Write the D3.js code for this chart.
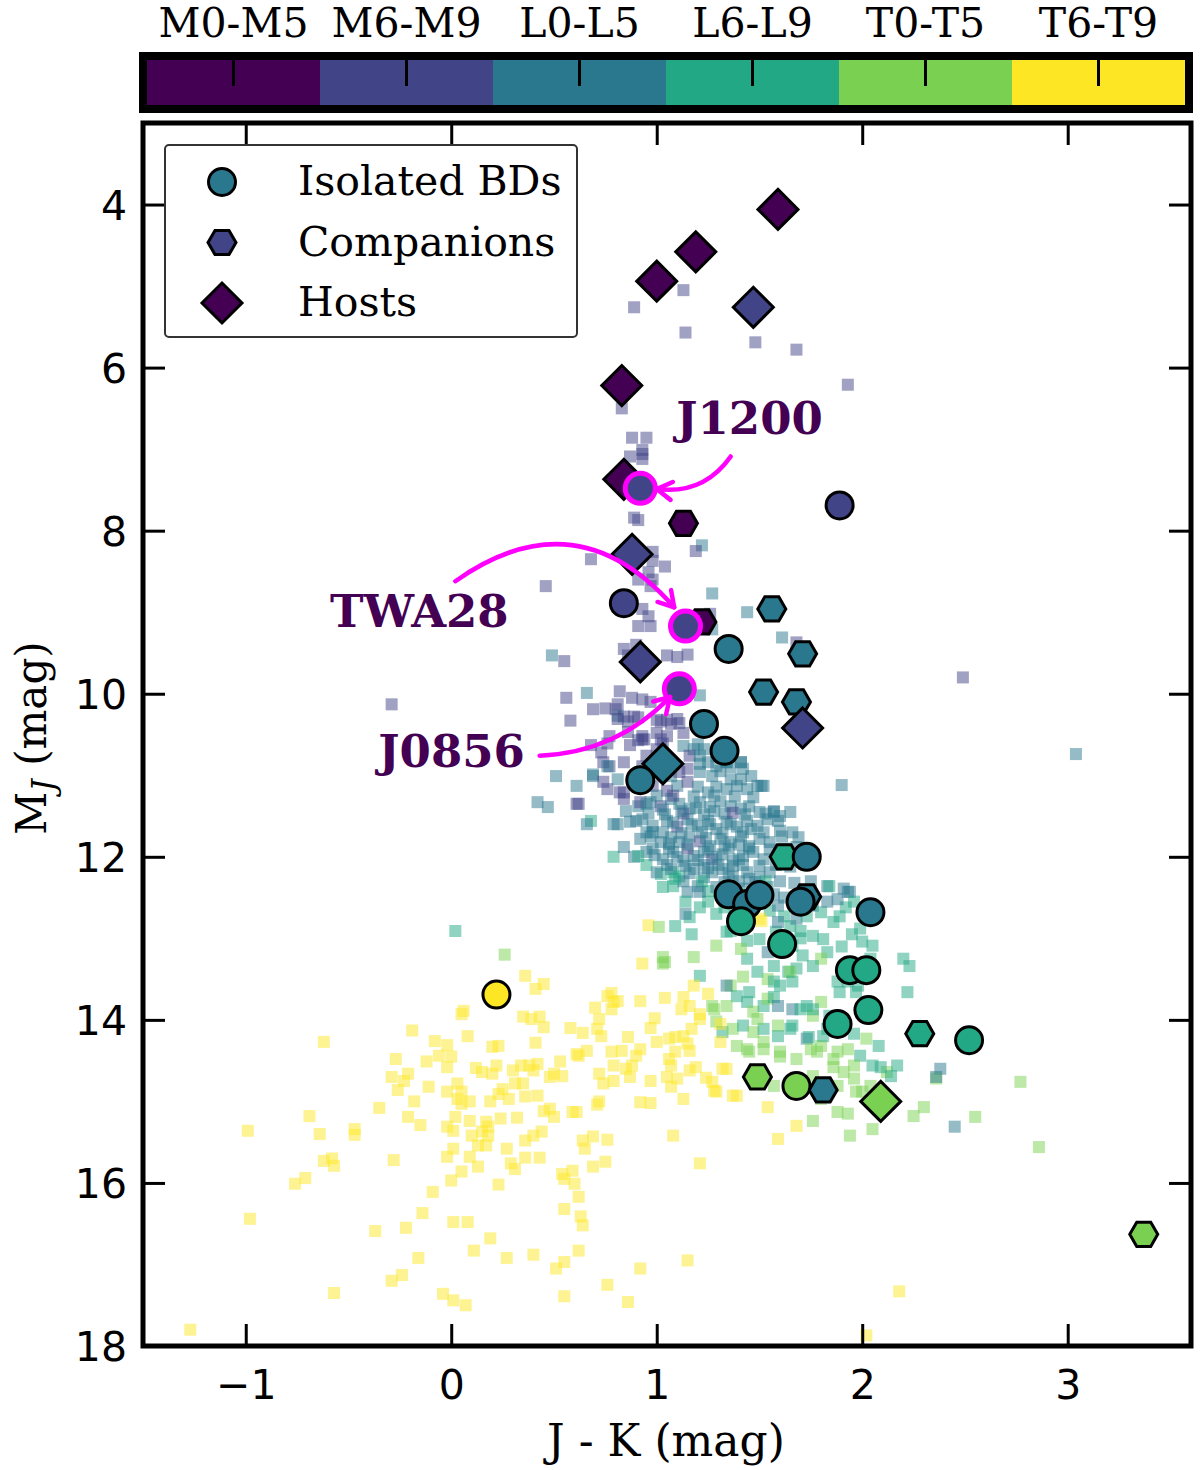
<!DOCTYPE html>
<meta charset="utf-8">
<head>
<script src="https://cdn.jsdelivr.net/npm/d3@7"></script>
<style>
  body { margin: 0; background: #fff; }
  .serif { font-family: "DejaVu Serif", serif; }
  .axis text { font-family: "DejaVu Sans", sans-serif; font-size: 41px; fill: #000; }
  .axis line { stroke: #000; stroke-width: 3; }
</style>
</head>
<body>
<script>
// spectral type classes (colorbar)
var categories = ["M0-M5", "M6-M9", "L0-L5", "L6-L9", "T0-T5", "T6-T9"];

// axis ticks
var xTicks = [-1, 0, 1, 2, 3];
var yTicks = [4, 6, 8, 10, 12, 14, 16, 18];

// [J-K, M_J, class index]
var isolated = [
  [1.89,7.69,1],[0.84,8.89,1],[1.35,9.45,2],[1.23,10.37,2],[1.33,10.70,2],
  [0.92,11.06,2],[1.73,12.00,2],[1.35,12.46,2],[1.44,12.58,2],[1.50,12.47,2],
  [1.70,12.55,2],[2.04,12.68,2],[1.41,12.79,3],[1.61,13.07,3],[1.94,13.39,3],
  [2.02,13.39,3],[2.03,13.88,3],[1.88,14.05,3],[2.52,14.25,3],[1.68,14.81,4],
  [0.22,13.69,5]
];
var companions = [
  [1.13,7.91,0],[1.22,9.12,0],[1.56,8.96,2],[1.71,9.51,2],[1.52,9.98,2],
  [1.68,10.10,2],[1.62,12.00,3],[1.73,12.49,2],[2.28,14.17,3],[1.49,14.70,4],
  [1.81,14.86,2],[3.37,16.63,4]
];
var hosts = [
  [1.59,4.06,0],[1.19,4.58,0],[1.00,4.94,0],[1.47,5.26,1],[0.83,6.22,0],
  [0.84,7.37,0],[0.88,8.29,1],[0.92,9.61,1],[1.71,10.42,1],[1.03,10.86,2],
  [2.09,15.00,4]
];

// highlighted objects: name, position, class
var namedObjects = ["J1200", "TWA28", "J0856"];
var namedPos = [[0.92,7.48,1],[1.14,9.17,1],[1.11,9.94,1]];
var labelPos = [[1.095,6.82],[-0.59,9.18],[-0.355,10.90]];
var arrowFrom = [[1.36,7.09],[0.02,8.62],[0.43,10.76]];
var arrowTo = [[1.00,7.49],[1.085,8.94],[1.065,10.04]];
var arrowRad = [-0.3, -0.45, 0.2];

// field objects (background squares)
var field = [
  [0.89,5.26,1],[1.13,5.05,1],[1.14,5.57,1],[1.48,5.69,1],[1.68,5.78,1],[1.93,6.21,1],
  [0.83,6.50,1],[0.88,6.86,1],[0.95,6.86,1],[0.87,7.09,1],[0.93,7.01,1],[0.93,7.12,1],
  [0.93,7.06,1],[0.89,7.84,1],[0.91,7.87,1],[1.22,8.18,2],[1.19,8.25,1],[0.68,8.35,1],
  [0.98,8.26,1],[0.98,8.37,1],[1.04,8.44,1],[0.96,8.51,1],[0.98,8.60,1],[0.91,8.60,1],
  [0.97,8.68,1],[0.46,8.68,1],[1.27,8.77,2],[1.44,9.00,2],[0.93,8.96,1],[0.96,9.05,1],
  [0.91,9.17,1],[0.97,9.17,1],[1.26,9.02,1],[1.27,9.21,2],[0.84,9.45,1],[0.90,9.40,1],
  [0.86,9.53,1],[0.91,9.55,1],[1.05,9.53,1],[1.10,9.55,1],[1.15,9.52,1],[1.61,9.31,2],
  [1.68,9.37,1],[0.49,9.53,2],[0.55,9.60,1],[1.21,10.02,2],[0.66,9.99,2],[0.56,10.05,1],
  [0.58,10.33,1],[0.69,10.19,1],[0.75,10.18,1],[0.81,10.13,1],[0.82,9.97,1],[0.88,10.05,1],
  [0.93,10.07,1],[0.97,10.10,1],[0.81,10.27,2],[0.84,10.28,1],[0.89,10.28,1],[1.00,10.32,1],
  [1.05,10.32,1],[1.11,10.36,1],[1.13,10.48,1],[1.00,10.48,1],[0.93,10.52,1],[1.03,10.61,1],
  [0.77,10.52,1],[0.76,10.61,1],[0.68,10.63,1],[0.87,10.63,1],[0.91,10.57,1],[0.73,10.72,1],
  [0.74,10.84,1],[0.77,10.89,1],[1.13,10.64,2],[1.20,10.62,2],[1.23,10.68,2],[1.29,10.76,2],
  [1.34,10.84,2],[1.36,10.90,2],[1.41,10.84,2],[0.84,10.84,1],[0.95,10.76,1],[0.93,10.89,1],
  [0.69,10.99,2],[0.61,11.13,2],[0.51,11.01,2],[0.76,11.17,1],[0.82,11.21,1],[0.84,11.29,1],
  [1.90,11.12,2],[0.42,11.33,2],[0.47,11.39,2],[0.61,11.35,1],[0.68,11.56,3],[0.66,11.60,2],
  [0.79,11.60,2],[0.87,11.57,2],[-0.29,10.13,1],[2.49,9.80,1],[3.04,10.74,2],
  [0.80,10.19,1],[0.81,10.31,1],[0.86,10.34,1],[0.91,10.29,1],[1.02,10.34,1],[1.07,10.37,1],
  [1.10,10.31,1],[0.94,10.56,1],[1.02,10.56,1],[1.00,10.68,1],[1.05,10.52,1],[0.86,10.47,1],
  [0.93,10.56,1],[0.62,11.35,1],[0.69,11.01,2],[0.76,10.89,2],[1.18,10.68,2],[1.16,10.76,1],
  [1.21,10.76,2],[1.21,10.86,2],[1.15,10.92,1],[1.25,10.84,2],[1.29,10.89,2],[1.34,10.84,2],
  [1.41,10.84,2],[1.42,10.92,2],[1.46,11.01,2],[1.51,11.13,2],[1.41,11.05,2],[0.74,11.08,1],
  [0.81,11.05,2],[0.84,11.21,1],[0.91,11.38,2],[0.92,11.33,1],[0.97,11.33,2],[0.85,11.44,2],
  [0.90,11.56,2],[0.81,11.60,2],[0.79,12.00,3],[0.84,11.88,2],[1.02,12.21,3],[1.03,12.37,3],
  [1.08,12.19,3],[1.57,11.45,2],[1.65,11.45,2],[1.59,11.56,2],[1.61,11.75,2],[1.69,11.76,2],
  [1.68,11.88,2],[1.83,12.36,2],[1.91,12.39,2],[1.94,12.43,2],
  [1.02,10.95,1],[1.07,11.01,2],[1.11,10.96,1],[1.21,10.96,2],[1.27,11.01,2],[1.31,10.95,2],
  [1.36,11.05,2],[0.98,11.13,1],[1.05,11.19,1],[1.10,11.13,2],[1.15,11.08,1],[1.20,11.14,2],
  [1.25,11.21,2],[1.29,11.14,2],[1.34,11.17,2],[1.39,11.13,2],[1.44,11.17,2],[1.49,11.13,2],
  [1.52,11.13,2],[0.95,11.35,2],[1.02,11.38,1],[1.07,11.29,2],[1.11,11.35,2],[1.16,11.41,2],
  [1.21,11.33,2],[1.26,11.39,2],[1.31,11.32,2],[1.36,11.38,2],[1.41,11.41,2],[1.45,11.38,2],
  [1.50,11.45,2],[1.57,11.44,2],[0.93,11.54,2],[0.98,11.62,2],[1.05,11.56,2],[1.10,11.63,1],
  [1.15,11.54,2],[1.20,11.62,2],[1.25,11.56,2],[1.29,11.66,2],[1.34,11.57,2],[1.39,11.63,2],
  [1.44,11.56,2],[1.49,11.62,2],[1.54,11.54,2],[0.92,11.78,2],[0.97,11.75,2],[1.02,11.82,2],
  [1.07,11.76,2],[1.11,11.82,2],[1.16,11.75,2],[1.21,11.81,1],[1.26,11.87,2],[1.31,11.78,2],
  [1.36,11.82,2],[1.41,11.75,2],[1.45,11.87,2],[1.50,11.78,2],[1.55,11.82,2],[0.89,12.00,2],
  [0.95,11.94,2],[1.03,12.03,2],[1.08,11.94,2],[1.13,12.05,2],[1.18,11.99,2],[1.23,11.94,2],
  [1.27,12.03,1],[1.32,11.97,2],[1.37,12.05,2],[1.42,11.99,2],[1.47,11.94,2],[1.52,12.03,2],
  [1.00,12.19,2],[1.07,12.15,2],[1.11,12.24,3],[1.18,12.15,2],[1.23,12.25,2],[1.27,12.19,2],
  [1.32,12.15,2],[1.37,12.24,2],[1.44,12.19,2],[1.50,12.25,2],[1.55,12.19,2],[1.08,12.36,3],
  [1.15,12.43,2],[1.20,12.36,2],[1.25,12.42,3],[1.29,12.37,2],[1.42,12.39,2],[1.47,12.43,2],
  [1.54,12.37,2],[1.57,12.46,2],[1.50,12.11,2],[1.37,12.11,2],
  [1.00,11.25,2],[1.08,11.25,1],[1.18,11.26,2],[1.28,11.25,2],[1.38,11.26,2],[1.47,11.27,2],
  [0.96,11.47,2],[1.04,11.48,2],[1.13,11.47,1],[1.23,11.48,2],[1.33,11.47,2],[1.43,11.48,2],
  [1.53,11.47,2],[1.60,11.50,2],[0.95,11.70,2],[1.03,11.70,2],[1.12,11.71,2],[1.22,11.70,2],
  [1.32,11.71,2],[1.42,11.70,2],[1.52,11.70,2],[1.60,11.68,2],[1.66,11.70,2],[0.98,11.90,2],
  [1.06,11.90,2],[1.15,11.90,1],[1.25,11.91,2],[1.35,11.90,2],[1.45,11.90,2],[1.55,11.91,2],
  [1.62,11.90,2],[0.95,12.10,3],[1.05,12.10,2],[1.14,12.11,2],[1.23,12.10,2],[1.30,12.10,2],
  [1.42,12.10,2],[1.58,12.10,2],[1.65,12.12,2],[1.13,12.30,2],[1.22,12.30,3],[1.33,12.31,2],
  [1.40,12.30,2],[1.48,12.31,2],[1.60,12.30,2],[1.67,12.32,2],[1.75,12.30,2],[1.25,12.55,3],
  [1.33,12.62,3],[1.38,12.72,3],[1.55,12.66,3],[1.62,12.50,2],[1.58,12.92,3],[1.70,13.00,3],
  [1.92,12.62,3],[1.95,12.95,3],[1.90,13.10,3],
  [1.03,11.42,2],[1.12,11.44,2],[1.19,11.40,2],[1.28,11.44,2],[1.37,11.46,1],[1.08,11.58,2],
  [1.17,11.60,2],[1.26,11.60,2],[1.36,11.60,2],[1.46,11.66,2],[1.06,11.84,2],[1.15,11.85,2],
  [1.24,11.77,2],[1.33,11.86,2],[1.40,11.85,2],[1.10,12.00,2],[1.20,12.04,2],[1.29,12.00,2],
  [1.40,12.03,2],[1.16,12.20,2],[1.25,12.14,2],[1.35,12.20,2],[1.45,12.27,2],[1.53,12.30,3],
  [0.99,11.98,2],
  [1.14,12.55,3],[1.21,12.62,3],[1.16,12.74,3],[1.21,12.43,2],[1.29,12.70,3],[1.36,12.91,3],
  [1.44,12.80,2],[1.50,13.01,3],[1.44,13.03,3],[1.50,12.76,5],[1.59,12.60,2],[1.62,12.73,3],
  [1.65,12.85,3],[1.68,12.76,2],[1.73,12.73,3],[1.76,12.60,2],[1.80,12.68,3],[1.83,12.55,2],
  [1.88,12.52,2],[1.93,12.43,2],[1.96,12.55,3],[1.89,12.73,3],[1.86,12.80,3],[1.84,12.36,3],
  [1.99,12.88,3],[2.00,13.04,3],[2.05,13.09,3],[2.04,13.25,3],[1.76,12.97,3],[1.81,13.01,3],
  [1.83,13.17,3],[1.80,13.25,4],[1.76,13.34,3],[1.66,13.09,3],[1.71,13.21,3],[1.68,13.37,3],
  [1.64,13.41,3],[1.57,13.34,3],[1.54,13.17,2],[2.20,13.25,3],[2.23,13.34,3],[1.44,13.25,3],
  [1.41,13.13,4],[1.49,13.41,3],[1.54,13.50,4],[1.60,13.58,3],[1.36,13.58,4],[1.39,13.71,3],
  [1.34,13.83,4],[1.44,13.78,3],[1.47,13.90,4],[1.52,13.83,3],[1.29,14.02,4],[1.32,14.15,3],
  [1.37,14.11,4],[1.42,14.07,3],[1.47,14.15,4],[1.52,14.11,3],[1.59,14.07,4],[1.65,14.11,3],
  [1.66,13.87,2],[1.73,13.83,3],[1.80,13.78,4],[1.84,13.95,3],[1.76,13.95,4],[1.31,14.27,5],
  [1.39,14.32,4],[1.45,14.39,4],[1.52,14.27,4],[1.60,14.39,4],[1.68,14.48,4],[1.73,14.23,2],
  [1.80,14.32,4],[1.88,14.39,4],[1.99,14.44,3],[2.05,14.56,3],[2.12,14.64,4],[2.17,14.56,3],
  [2.38,14.60,2],[2.36,14.72,4],[1.21,13.99,5],[1.27,13.83,4],[1.16,13.83,5],
  [0.98,11.70,2],[0.91,11.99,3],[1.09,12.27,3],[1.17,12.95,3],[1.14,12.70,2],[0.96,12.84,5],
  [1.01,12.86,4],[1.09,12.85,3],[0.93,13.31,5],[1.03,13.31,4],[1.18,13.23,4],[1.21,13.46,3],
  [1.29,13.09,4],[1.34,12.92,3],[1.51,12.79,5],[1.59,12.80,2],[1.70,12.91,3],[1.88,13.53,3],
  [1.93,13.53,3],[1.42,13.47,4],[1.45,13.66,3],[1.57,13.53,3],[1.65,13.41,4],[1.66,13.53,3],
  [1.54,13.74,4],[1.57,13.72,3],[1.59,13.83,2],[1.49,13.99,4],[1.44,14.36,4],[1.52,14.36,4],
  [1.59,14.20,3],[1.66,14.07,3],[1.70,13.87,3],[1.76,13.87,3],[1.89,13.66,3],[1.97,13.66,3],
  [1.98,13.58,3],[1.83,14.11,3],[1.81,14.20,3],[1.78,14.39,4],[1.96,14.17,3],[2.02,14.23,4],
  [2.08,14.32,3],[1.74,14.21,3],[1.75,14.36,4],[1.93,14.36,4],[1.86,14.48,4],[1.86,14.58,4],
  [1.96,14.56,4],[2.09,14.58,3],[2.14,14.69,3],[1.60,14.45,4],[1.57,14.81,4],[1.76,14.69,4],
  [1.91,14.64,4],[1.96,14.72,4],[1.97,14.88,4],[2.00,14.88,4],[2.04,14.81,4],[1.88,14.81,4],
  [1.80,14.97,4],[1.88,15.13,4],[1.93,15.15,4],[1.76,15.24,4],[2.05,15.34,4],[1.94,15.42,4],
  [2.25,15.18,4],[2.30,15.07,4],[2.36,14.70,2],[2.45,15.31,2],[2.55,15.19,4],[2.77,14.76,4],
  [2.86,15.56,4],[1.68,15.30,5],[1.59,15.46,5],[1.54,15.07,5],[2.22,13.66,3],
  [0.02,12.91,3],[0.26,13.20,4],[0.36,13.46,5],[0.41,13.62,5],[0.45,13.56,5],[0.05,13.93,5],
  [0.06,13.89,5],[0.35,13.96,5],[0.39,13.99,5],[0.43,13.96,5],[0.45,14.09,5],[-0.19,14.13,5],
  [-0.62,14.27,5],[0.08,14.20,5],[-0.08,14.26,5],[-0.02,14.31,5],[0.20,14.33,5],[0.23,14.32,5],
  [0.41,14.28,5],[0.58,14.10,5],[0.64,14.16,5],[0.70,13.85,5],[0.72,13.99,5],[0.71,14.11,5],
  [0.73,14.20,5],[0.78,13.67,5],[0.81,13.77,5],[0.78,13.87,5],[0.92,13.77,5],[0.99,13.98,5],
  [0.97,14.10,5],[1.03,13.23,4],[1.04,13.29,4],[1.04,13.73,5],[1.13,13.72,5],[1.12,13.87,5],
  [1.18,13.58,5],[1.25,13.68,5],[1.21,13.93,5],[1.17,14.11,5],[1.28,13.87,4],[1.31,14.05,5],
  [1.34,13.58,2],[-0.27,14.48,5],[-0.12,14.51,5],[-0.06,14.44,5],[0.00,14.45,5],[-0.02,14.58,5],
  [-0.29,14.70,5],[-0.21,14.66,5],[-0.23,14.75,5],[0.12,14.59,5],[0.15,14.64,5],[0.20,14.66,5],
  [0.22,14.56,5],[0.30,14.62,5],[0.34,14.56,5],[0.38,14.56,5],[0.42,14.54,5],[0.40,14.62,5],
  [0.53,14.51,5],[0.50,14.66,5],[0.54,14.69,5],[0.48,14.70,5],[0.62,14.44,5],[0.66,14.38,5],
  [0.61,14.42,5],[0.78,14.39,5],[0.83,14.38,5],[0.86,14.21,5],[0.79,14.56,5],[0.85,14.60,5],
  [0.88,14.56,5],[0.90,14.44,5],[0.92,14.36,5],[1.00,14.27,5],[1.06,14.23,5],[1.09,14.21,5],
  [1.13,14.20,5],[1.15,14.29,5],[1.09,14.39,5],[1.06,14.48,5],[1.07,14.56,5],[1.05,14.70,5],
  [1.10,14.72,5],[1.16,14.62,5],[1.19,14.58,5],[1.16,14.38,5],[0.72,14.66,5],[0.74,14.78,5],
  [0.79,14.75,5],[0.87,14.70,5],[0.97,14.75,5],[1.07,14.82,5],[1.13,14.97,5],[1.24,14.71,5],
  [1.28,14.87,5],[1.34,14.60,5],[1.39,14.93,5],[0.97,15.02,5],[-0.11,14.82,5],[-0.02,14.88,5],
  [0.03,14.78,5],[0.05,14.88,5],[-0.26,14.86,5],[-0.18,15.00,5],[-0.35,15.08,5],[0.03,14.97,5],
  [0.09,15.00,5],[0.05,15.03,5],[0.19,15.00,5],[0.23,14.91,5],[0.25,14.85,5],[0.28,14.97,5],
  [0.31,14.78,5],[0.35,14.78,5],[0.36,14.94,5],[0.42,14.93,5],[-0.21,15.19,5],[-0.15,15.29,5],
  [0.02,15.19,5],[0.09,15.24,5],[0.17,15.25,5],[0.24,15.21,5],[0.32,15.20,5],[0.45,15.12,5],
  [0.48,15.09,5],[0.50,15.19,5],[0.61,15.13,5],[0.71,15.04,5],[-0.69,15.18,5],[-0.99,15.36,5],
  [-0.64,15.40,5],[-0.47,15.34,5],[-0.47,15.41,5],[-0.02,15.31,5],[0.01,15.36,5],[0.10,15.42,5],
  [0.15,15.37,5],[0.18,15.31,5],[0.18,15.42,5],[0.13,15.54,5],[0.17,15.54,5],[0.36,15.48,5],
  [0.40,15.42,5],[0.44,15.37,5],[0.64,15.48,5],[0.69,15.43,5],[0.76,15.47,5],[0.65,15.58,5],
  [1.08,15.42,5],[-0.28,15.72,5],[-0.62,15.73,5],[-0.58,15.70,5],[-0.57,15.79,5],[0.01,15.58,5],
  [-0.02,15.68,5],[0.09,15.68,5],[0.13,15.80,5],[0.27,15.58,5],[0.29,15.76,5],[0.31,15.83,5],
  [0.36,15.69,5],[0.43,15.69,5],[0.54,15.89,5],[0.59,15.85,5],[0.55,15.95,5],[0.60,16.01,5],
  [0.62,16.17,5],[0.69,15.80,5],[0.75,15.74,5],[1.21,15.76,5],[0.05,15.86,5],[0.00,15.97,5],
  [-0.09,16.11,5],[0.23,16.02,5],[-0.71,15.94,5],[-0.76,16.01,5],[-0.98,16.44,5],[-0.14,16.37,5],
  [-0.22,16.55,5],[-0.37,16.59,5],[0.01,16.48,5],[0.08,16.48,5],[0.19,16.68,5],[0.55,16.32,5],
  [0.63,16.41,5],[0.64,16.52,5],[-0.16,16.92,5],[0.11,16.83,5],[0.27,16.92,5],[0.40,16.88,5],
  [0.62,16.83,5],[0.55,16.97,5],[0.51,17.05,5],[0.92,17.05,5],[1.15,16.95,5],[0.76,17.25,5],
  [-0.24,17.13,5],[-0.29,17.20,5],[-0.57,17.35,5],[-0.04,17.36,5],[0.01,17.44,5],[0.07,17.50,5],
  [0.55,17.39,5],[0.86,17.46,5],[-1.27,17.80,5],[2.02,17.87,5],[2.18,17.33,5],
  [1.32,14.60,5],[1.27,14.76,5],[1.37,14.93,5],[1.29,14.88,5],[0.92,15.01,5],[0.72,15.00,5],
  [0.59,15.13,5],[0.76,13.71,5],[0.79,13.78,5]
];

var W = 1200, H = 1470;
var color = function(i) { return d3.interpolateViridis(i / (categories.length - 1)); };

var svg = d3.select("body").append("svg")
  .attr("width", W).attr("height", H);

var x = d3.scaleLinear().domain([-1.5, 3.6]).range([143, 1191]);
var y = d3.scaleLinear().domain([3, 18]).range([123, 1346]);

// ---- colorbar ----
var cb = d3.scaleBand().domain(categories).range([147, 1185]);
var cbTop = 60, cbBot = 105;

svg.selectAll("rect.cb").data(categories).enter().append("rect")
  .attr("class", "cb")
  .attr("x", function(d) { return cb(d); })
  .attr("y", cbTop)
  .attr("width", cb.bandwidth() + 0.5)
  .attr("height", cbBot - cbTop)
  .attr("fill", function(d, i) { return color(i); });

svg.selectAll("line.cbtick").data(categories).enter().append("line")
  .attr("x1", function(d) { return cb(d) + cb.bandwidth() / 2; })
  .attr("x2", function(d) { return cb(d) + cb.bandwidth() / 2; })
  .attr("y1", cbTop).attr("y2", cbTop + 26)
  .attr("stroke", "#000").attr("stroke-width", 3);

svg.append("rect")
  .attr("x", 143).attr("y", 56)
  .attr("width", 1189 - 143).attr("height", 109 - 56)
  .attr("fill", "none").attr("stroke", "#000").attr("stroke-width", 8);

svg.selectAll("text.cblab").data(categories).enter().append("text")
  .attr("class", "serif")
  .attr("x", function(d) { return cb(d) + cb.bandwidth() / 2; })
  .attr("y", 37)
  .attr("text-anchor", "middle")
  .attr("font-size", 41)
  .text(function(d) { return d; });

// ---- main panel ----
var defs = svg.append("defs");
defs.append("clipPath").attr("id", "clip").append("rect")
  .attr("x", 143).attr("y", 123).attr("width", 1048).attr("height", 1223);

defs.append("marker").attr("id", "arrow")
  .attr("viewBox", "-20 -12 24 24")
  .attr("markerUnits", "userSpaceOnUse")
  .attr("markerWidth", 24).attr("markerHeight", 24)
  .attr("refX", 0).attr("refY", 0)
  .attr("orient", "auto")
  .append("path")
  .attr("d", "M-15,-9 L0,0 L-15,9")
  .attr("fill", "none").attr("stroke", "#ff00ff").attr("stroke-width", 4.5)
  .attr("stroke-linecap", "round").attr("stroke-linejoin", "round");

var panel = svg.append("g").attr("clip-path", "url(#clip)");

var sq = 12;
panel.selectAll("rect.field").data(field).enter().append("rect")
  .attr("x", function(d) { return x(d[0]) - sq / 2; })
  .attr("y", function(d) { return y(d[1]) - sq / 2; })
  .attr("width", sq).attr("height", sq)
  .attr("fill", function(d) { return color(d[2]); })
  .attr("fill-opacity", 0.5);

var hex = d3.symbol().type({
  draw: function(ctx, size) {
    var r = Math.sqrt(size / (1.5 * Math.sqrt(3)));
    for (var k = 0; k < 6; k++) {
      var a = k * Math.PI / 3;
      if (k === 0) ctx.moveTo(r * Math.cos(a), r * Math.sin(a));
      else ctx.lineTo(r * Math.cos(a), r * Math.sin(a));
    }
    ctx.closePath();
  }
}).size(1.5 * Math.sqrt(3) * 14 * 14);

var diamond = d3.symbol().type({
  draw: function(ctx, size) {
    var r = Math.sqrt(size / 2);
    ctx.moveTo(0, -r); ctx.lineTo(r, 0); ctx.lineTo(0, r); ctx.lineTo(-r, 0);
    ctx.closePath();
  }
}).size(2 * 20 * 20);

panel.selectAll("path.comp").data(companions).enter().append("path")
  .attr("d", hex)
  .attr("transform", function(d) { return "translate(" + x(d[0]) + "," + y(d[1]) + ")"; })
  .attr("fill", function(d) { return color(d[2]); })
  .attr("stroke", "#000").attr("stroke-width", 3);

panel.selectAll("path.host").data(hosts).enter().append("path")
  .attr("d", diamond)
  .attr("transform", function(d) { return "translate(" + x(d[0]) + "," + y(d[1]) + ")"; })
  .attr("fill", function(d) { return color(d[2]); })
  .attr("stroke", "#000").attr("stroke-width", 3);

panel.selectAll("circle.iso").data(isolated).enter().append("circle")
  .attr("cx", function(d) { return x(d[0]); })
  .attr("cy", function(d) { return y(d[1]); })
  .attr("r", 13.5)
  .attr("fill", function(d) { return color(d[2]); })
  .attr("stroke", "#000").attr("stroke-width", 3);

panel.selectAll("circle.named").data(namedPos).enter().append("circle")
  .attr("cx", function(d) { return x(d[0]); })
  .attr("cy", function(d) { return y(d[1]); })
  .attr("r", 15)
  .attr("fill", function(d) { return color(d[2]); })
  .attr("stroke", "#ff00ff").attr("stroke-width", 5);

// annotation arrows (arc3-like quadratic curves)
panel.selectAll("path.arrow").data(namedObjects).enter().append("path")
  .attr("d", function(d, i) {
    var x1 = x(arrowFrom[i][0]), y1 = y(arrowFrom[i][1]);
    var x2 = x(arrowTo[i][0]), y2 = y(arrowTo[i][1]);
    var dx = x2 - x1, dy = y2 - y1, f = arrowRad[i];
    var cx = (x1 + x2) / 2 - f * dy, cy = (y1 + y2) / 2 + f * dx;
    return "M" + x1 + "," + y1 + " Q" + cx + "," + cy + " " + x2 + "," + y2;
  })
  .attr("fill", "none").attr("stroke", "#ff00ff").attr("stroke-width", 4.5)
  .attr("stroke-linecap", "round")
  .attr("marker-end", "url(#arrow)");

svg.selectAll("text.name").data(namedObjects).enter().append("text")
  .attr("class", "serif")
  .attr("x", function(d, i) { return x(labelPos[i][0]); })
  .attr("y", function(d, i) { return y(labelPos[i][1]); })
  .attr("font-size", 45).attr("font-weight", "bold")
  .attr("fill", color(0))
  .text(function(d) { return d; });

// ---- axes ----
var gx = svg.append("g").attr("class", "axis")
  .attr("transform", "translate(0,1346)")
  .call(d3.axisBottom(x).tickValues(xTicks).tickFormat(d3.format("d"))
    .tickSizeInner(-22).tickSizeOuter(0).tickPadding(16));
var gxt = svg.append("g").attr("class", "axis")
  .attr("transform", "translate(0,123)")
  .call(d3.axisTop(x).tickValues(xTicks).tickSizeInner(-22).tickSizeOuter(0).tickFormat(""));
var gy = svg.append("g").attr("class", "axis")
  .attr("transform", "translate(143,0)")
  .call(d3.axisLeft(y).tickValues(yTicks).tickSizeInner(-22).tickSizeOuter(0).tickPadding(16));
var gyr = svg.append("g").attr("class", "axis")
  .attr("transform", "translate(1191,0)")
  .call(d3.axisRight(y).tickValues(yTicks).tickSizeInner(-22).tickSizeOuter(0).tickFormat(""));
svg.selectAll(".axis .domain").remove();
gx.selectAll("text").attr("dy", "0.9em");
gy.selectAll("text").attr("dy", "0.36em");

svg.append("rect")
  .attr("x", 143).attr("y", 123).attr("width", 1048).attr("height", 1223)
  .attr("fill", "none").attr("stroke", "#000").attr("stroke-width", 5);

svg.append("text").attr("class", "serif")
  .attr("x", 666).attr("y", 1456)
  .attr("text-anchor", "middle").attr("font-size", 44)
  .text("J - K (mag)");

var yl = svg.append("text").attr("class", "serif")
  .attr("transform", "translate(46,738) rotate(-90)")
  .attr("text-anchor", "middle").attr("font-size", 42);
yl.append("tspan").text("M");
yl.append("tspan").attr("font-style", "italic").attr("font-size", 31)
  .attr("baseline-shift", "-25%").text("J");
yl.append("tspan").text(" (mag)");

// ---- legend ----
var legendLabels = ["Isolated BDs", "Companions", "Hosts"];
var legendCat = [2, 1, 0];
var lg = svg.append("g");
lg.append("rect")
  .attr("x", 165).attr("y", 145).attr("width", 412).attr("height", 192)
  .attr("rx", 4).attr("fill", "#fff").attr("fill-opacity", 0.8)
  .attr("stroke", "#333").attr("stroke-width", 2);
var ly = d3.scalePoint().domain(legendLabels).range([182, 303]);
var shapes = [null, hex, diamond];
legendLabels.forEach(function(lab, i) {
  if (i === 0) {
    lg.append("circle").attr("cx", 222).attr("cy", ly(lab)).attr("r", 13.5)
      .attr("fill", color(legendCat[i])).attr("stroke", "#000").attr("stroke-width", 3);
  } else {
    lg.append("path").attr("d", shapes[i])
      .attr("transform", "translate(222," + ly(lab) + ")")
      .attr("fill", color(legendCat[i])).attr("stroke", "#000").attr("stroke-width", 3);
  }
  lg.append("text").attr("class", "serif")
    .attr("x", 298).attr("y", ly(lab) + 13)
    .attr("font-size", 41)
    .text(lab);
});
</script>
</body>
